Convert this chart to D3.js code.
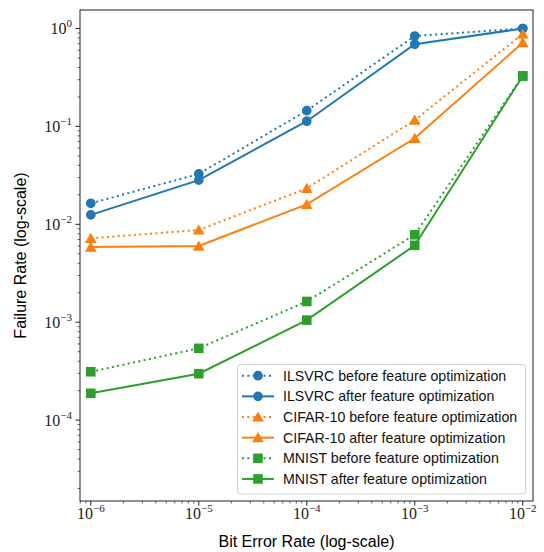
<!DOCTYPE html>
<html>
<head>
<meta charset="utf-8">
<style>
  html, body { margin: 0; padding: 0; background: #fff; }
  svg { display: block; }
</style>
</head>
<body>
<script src="https://cdn.jsdelivr.net/npm/d3@7"></script>
<div id="chart"></div>
<script>

// bit error rates (x)
var berValues = [1e-6, 1e-5, 1e-4, 1e-3, 1e-2];

// failure rates
var ilsvrcBefore = [0.0164, 0.0327, 0.145, 0.838, 1.0];
var ilsvrcAfter  = [0.0125, 0.0283, 0.113, 0.690, 1.0];
var cifarBefore  = [0.00719, 0.00875, 0.0233, 0.116, 0.879];
var cifarAfter   = [0.00586, 0.0060, 0.0160, 0.0756, 0.716];
var mnistBefore  = [0.000312, 0.000541, 0.00163, 0.00783, 0.327];
var mnistAfter   = [0.000188, 0.000298, 0.00105, 0.0061, 0.327];

var seriesNames = [
  'ILSVRC before feature optimization',
  'ILSVRC after feature optimization',
  'CIFAR-10 before feature optimization',
  'CIFAR-10 after feature optimization',
  'MNIST before feature optimization',
  'MNIST after feature optimization'
];
var xTickExps = [-6, -5, -4, -3, -2];
var yTickExps = [0, -1, -2, -3, -4];

var series = [
  {name: seriesNames[0], values: ilsvrcBefore, color: '#1f77b4', dotted: true,  marker: 'circle'},
  {name: seriesNames[1], values: ilsvrcAfter,  color: '#1f77b4', dotted: false, marker: 'circle'},
  {name: seriesNames[2], values: cifarBefore,  color: '#ff7f0e', dotted: true,  marker: 'triangle'},
  {name: seriesNames[3], values: cifarAfter,   color: '#ff7f0e', dotted: false, marker: 'triangle'},
  {name: seriesNames[4], values: mnistBefore,  color: '#2ca02c', dotted: true,  marker: 'square'},
  {name: seriesNames[5], values: mnistAfter,   color: '#2ca02c', dotted: false, marker: 'square'}
];

var W = 544, H = 552;
var pLeft = 80, pRight = 533, pTop = 10, pBottom = 501;

var svg = d3.select('#chart').append('svg')
  .attr('width', W)
  .attr('height', H)

var x = d3.scaleLog()
  .domain([Math.pow(10, -6.1), Math.pow(10, -1.905)])
  .range([pLeft, pRight])

var y = d3.scaleLog()
  .domain([Math.pow(10, -4.826), Math.pow(10, 0.189)])
  .range([pBottom, pTop])

// minor ticks
function minorTicks(scale) {
  var d = scale.domain(), out = [];
  var lo = Math.floor(Math.log10(d[0])), hi = Math.ceil(Math.log10(d[1]));
  for (var e = lo; e <= hi; e++) {
    for (var m = 2; m <= 9; m++) {
      var v = m * Math.pow(10, e);
      if (v >= d[0] && v <= d[1]) out.push(v);
    }
  }
  return out;
}

var tickColor = '#222';

// x ticks
var xAxis = svg.append('g').attr('class', 'x-axis')
xAxis.selectAll('.minor').data(minorTicks(x)).enter().append('line')
  .attr('x1', d => x(d)).attr('x2', d => x(d))
  .attr('y1', pBottom).attr('y2', pBottom + 2.5)
  .attr('stroke', tickColor).attr('stroke-width', 0.7)
xAxis.selectAll('.major').data(xTickExps).enter().append('line')
  .attr('x1', d => x(Math.pow(10, d))).attr('x2', d => x(Math.pow(10, d)))
  .attr('y1', pBottom).attr('y2', pBottom + 4.5)
  .attr('stroke', tickColor).attr('stroke-width', 1)

function powLabel(sel) {
  sel.append('tspan').text('10')
  sel.append('tspan')
    .attr('dy', -7)
    .style('font-size', '11px')
    .text(d => (d < 0 ? '\u2212' : '') + Math.abs(d))
}

xAxis.selectAll('.lab').data(xTickExps).enter().append('text')
  .attr('x', d => x(Math.pow(10, d)))
  .attr('y', 519)
  .attr('text-anchor', 'middle')
  .style('font-family', 'Liberation Serif, DejaVu Serif, serif')
  .style('font-size', '16px')
  .attr('fill', '#222')
  .call(powLabel)

// y ticks
var yAxis = svg.append('g').attr('class', 'y-axis')
yAxis.selectAll('.minor').data(minorTicks(y)).enter().append('line')
  .attr('y1', d => y(d)).attr('y2', d => y(d))
  .attr('x1', pLeft).attr('x2', pLeft - 2.5)
  .attr('stroke', tickColor).attr('stroke-width', 0.7)
yAxis.selectAll('.major').data(yTickExps).enter().append('line')
  .attr('y1', d => y(Math.pow(10, d))).attr('y2', d => y(Math.pow(10, d)))
  .attr('x1', pLeft).attr('x2', pLeft - 4.5)
  .attr('stroke', tickColor).attr('stroke-width', 1)

yAxis.selectAll('.lab').data(yTickExps).enter().append('text')
  .attr('x', 72)
  .attr('y', d => y(Math.pow(10, d)) + 5.5)
  .attr('text-anchor', 'end')
  .style('font-family', 'Liberation Serif, DejaVu Serif, serif')
  .style('font-size', '16px')
  .attr('fill', '#222')
  .call(powLabel)

// axis titles
svg.append('text')
  .attr('x', (pLeft + pRight) / 2)
  .attr('y', 547)
  .attr('text-anchor', 'middle')
  .style('font-family', 'Liberation Sans, Arial, sans-serif')
  .style('font-size', '16px')
  .text('Bit Error Rate (log-scale)')

svg.append('text')
  .attr('transform', 'translate(26,' + ((pTop + pBottom) / 2) + ') rotate(-90)')
  .attr('text-anchor', 'middle')
  .style('font-family', 'Liberation Sans, Arial, sans-serif')
  .style('font-size', '16px')
  .text('Failure Rate (log-scale)')

// lines + markers
var line = d3.line()
  .x((d, i) => x(berValues[i]))
  .y(d => y(d))

var symbolFor = {
  circle: d3.symbol().type(d3.symbolCircle).size(Math.PI * 4.85 * 4.85),
  triangle: d3.symbol().type(d3.symbolTriangle).size(60),
  square: d3.symbol().type(d3.symbolSquare).size(92)
};

var plot = svg.append('g')
series.forEach(function(s) {
  plot.append('path')
    .datum(s.values)
    .attr('d', line)
    .attr('fill', 'none')
    .attr('stroke', s.color)
    .attr('stroke-width', 2)
    .attr('stroke-dasharray', s.dotted ? '2,3.4' : null)
  plot.selectAll(null)
    .data(s.values)
    .enter()
    .append('path')
    .attr('transform', (d, i) => 'translate(' + x(berValues[i]) + ',' + y(d) + ')' + (s.marker == 'triangle' ? ' translate(0,1.2)' : ''))
    .attr('d', symbolFor[s.marker])
    .attr('fill', s.color)
})

// frame
svg.append('rect')
  .attr('x', pLeft).attr('y', pTop)
  .attr('width', pRight - pLeft).attr('height', pBottom - pTop)
  .attr('fill', 'none')
  .attr('stroke', '#222')
  .attr('stroke-width', 1)

// legend
var legend = svg.append('g')
legend.append('rect')
  .attr('x', 237.5).attr('y', 364.5)
  .attr('width', 288).attr('height', 129.5)
  .attr('rx', 3)
  .attr('fill', 'white').attr('fill-opacity', 0.8)
  .attr('stroke', '#d0d0d0').attr('stroke-width', 1)

var rows = legend.selectAll('.row')
  .data(series)
  .enter()
  .append('g')
  .attr('transform', (d, i) => 'translate(0,' + (375.7 + i * 20.65) + ')')

rows.append('line')
  .attr('x1', 242).attr('x2', 274)
  .attr('y1', 0).attr('y2', 0)
  .attr('stroke', d => d.color)
  .attr('stroke-width', 2)
  .attr('stroke-dasharray', d => d.dotted ? '2,3.4' : null)

rows.append('path')
  .attr('transform', d => 'translate(258,' + (d.marker == 'triangle' ? 1.2 : 0) + ')')
  .attr('d', d => symbolFor[d.marker]())
  .attr('fill', d => d.color)

rows.append('text')
  .attr('x', 283)
  .attr('y', 0)
  .attr('dy', '0.35em')
  .style('font-family', 'Liberation Sans, Arial, sans-serif')
  .style('font-size', '14.2px')
  .attr('fill', '#111')
  .text(d => d.name)

</script>
</body>
</html>
